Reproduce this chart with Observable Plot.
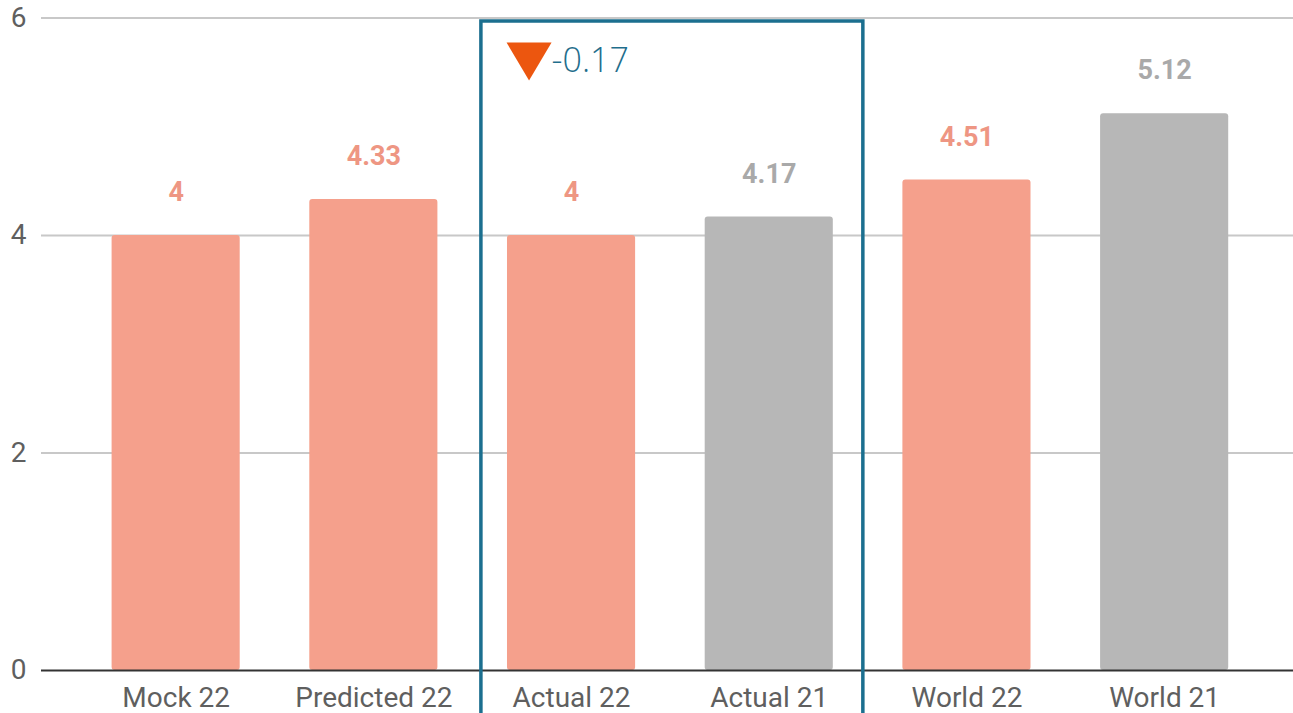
<!DOCTYPE html>
<html>
<head>
<meta charset="utf-8">
<script src="https://cdn.jsdelivr.net/npm/d3@7"></script>
<script src="https://cdn.jsdelivr.net/npm/@observablehq/plot@0.6"></script>
<style>
  html, body { margin: 0; padding: 0; background: #fff; }
  #chart svg { display: block; }
</style>
</head>
<body>
<div id="chart"></div>
<script>
// ---- data ----
const categories = ["Mock 22", "Predicted 22", "Actual 22", "Actual 21", "World 22", "World 21"];
const values = [4, 4.33, 4, 4.17, 4.51, 5.12];
const groups = ["22", "22", "22", "21", "22", "21"];
const yTicks = [0, 2, 4, 6];
const gridTicks = [2, 4, 6];
const annotationText = ["-0.17"];
const annotationCategory = ["Actual 22"];
const boxCategories = ["Actual 22", "Actual 21"];

const barColor = {"22": "#f5a08c", "21": "#b7b7b7"};
const labelColor = {"22": "#ee9683", "21": "#a9a9a9"};

const data = categories.map((c, i) => ({cat: c, value: values[i], group: groups[i], label: String(values[i])}));
const annData = annotationCategory.map((c, i) => ({cat: c, y: 5.6, text: annotationText[i]}));

const downTriangle = {
  draw(context) {
    context.moveTo(-22.5, -19);
    context.lineTo(22.5, -19);
    context.lineTo(0, 19);
    context.closePath();
  }
};

// custom mark: highlight box around two categories, positioned by scales
function boxMark(...args) {
  const scales = args.find(a => a && typeof a.x === "function" && a.x.bandwidth);
  const x = scales.x, y = scales.y;
  const step = x.step ? x.step() : x.bandwidth() / (1 - 0.352);
  const left = x(boxCategories[0]) - 0.132 * step;
  const right = x(boxCategories[1]) + x.bandwidth() + 0.152 * step;
  const top = y(6) + 3.5;
  const ns = "http://www.w3.org/2000/svg";
  const path = document.createElementNS(ns, "path");
  const bottom = top + 1000;
  path.setAttribute("d", `M${left},${bottom}V${top}H${right}V${bottom}`);
  path.setAttribute("fill", "none");
  path.setAttribute("stroke", "#1b6f8f");
  path.setAttribute("stroke-width", 3.5);
  return path;
}

const chart = Plot.plot({
  width: 1293,
  height: 713,
  marginLeft: 41,
  marginRight: 0,
  marginTop: 17.5,
  marginBottom: 43,
  style: {fontFamily: "Roboto, sans-serif", background: "#fff", overflow: "hidden"},
  x: {domain: categories, range: [42.4, 1297.4], paddingInner: 0.352, paddingOuter: 0.35, round: false, axis: null},
  y: {domain: [0, 6], axis: null},
  marks: [
    Plot.ruleY(gridTicks, {y: d => d, stroke: "#c8c8c8", strokeWidth: 2}),
    Plot.barY(data, {x: "cat", y: "value", fill: d => barColor[d.group], rx: 3}),
    Plot.ruleY([0], {stroke: "#333", strokeWidth: 2}),
    Plot.text(data, {
      x: "cat", y: "value", text: "label", dy: -43, lineAnchor: "middle",
      fill: d => labelColor[d.group], stroke: "white", strokeWidth: 4,
      fontSize: 27, fontWeight: "bold", fontFamily: "Roboto"
    }),
    Plot.text(yTicks, {
      y: d => d, text: d => String(d), frameAnchor: "left", dx: -15,
      textAnchor: "end", lineAnchor: "middle", fontSize: 28, fill: "#5f5f5f", fontFamily: "Roboto"
    }),
    Plot.text(categories, {
      x: d => d, text: d => d, frameAnchor: "bottom", dy: 17,
      lineAnchor: "top", fontSize: 28, fill: "#5f5f5f", fontFamily: "Roboto"
    }),
    boxMark,
    Plot.dot(annData, {x: "cat", y: "y", dx: -42.5, symbol: downTriangle, r: 10, fill: "#ec560f", stroke: "none"}),
    Plot.text(annData, {
      x: "cat", y: "y", dx: -20, text: "text", textAnchor: "start", lineAnchor: "middle",
      fontSize: 34, fontWeight: 300, fill: "#1f6e8c", fontFamily: "'Open Sans', Roboto, sans-serif"
    })
  ]
});
document.getElementById("chart").append(chart);
</script>
</body>
</html>
